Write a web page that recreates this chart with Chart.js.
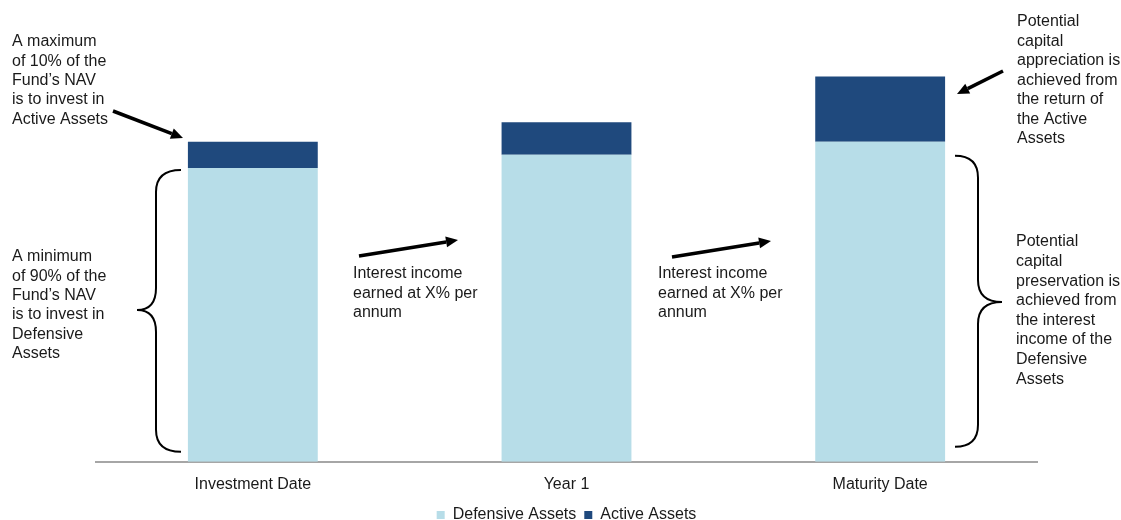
<!DOCTYPE html>
<html>
<head>
<meta charset="utf-8">
<script src="https://cdn.jsdelivr.net/npm/chart.js@4.4.1/dist/chart.umd.min.js"></script>
<style>
  html, body { margin: 0; padding: 0; background: #fff; }
  #wrap { width: 1121px; height: 520px; position: relative; }
</style>
</head>
<body>
<div id="wrap"><canvas id="fundChart"></canvas></div>
<script>
// data
const categories = ["Investment Date", "Year 1", "Maturity Date"];
const defensiveAssets = [90, 94, 98];
const activeAssets = [8, 10, 20];

// side notes
const noteMaxActive = ["A maximum", "of 10% of the", "Fund\u2019s NAV", "is to invest in", "Active Assets"];
const noteMinDefensive = ["A minimum", "of 90% of the", "Fund\u2019s NAV", "is to invest in", "Defensive", "Assets"];
const noteInterest = ["Interest income", "earned at X% per", "annum"];
const noteAppreciation = ["Potential", "capital", "appreciation is", "achieved from", "the return of", "the Active", "Assets"];
const notePreservation = ["Potential", "capital", "preservation is", "achieved from", "the interest", "income of the", "Defensive", "Assets"];

const FONT = "'Liberation Sans', Arial, sans-serif";

function drawLines(ctx, lines, x, y, gap) {
    lines.forEach(function (t, i) {
        ctx.fillText(t, x, y + i * gap);
    });
}

function drawArrow(ctx, x1, y1, x2, y2) {
    let ang = Math.atan2(y2 - y1, x2 - x1);
    let head = 12;
    let bx = x2 - head * Math.cos(ang), by = y2 - head * Math.sin(ang);
    ctx.beginPath();
    ctx.moveTo(x1, y1);
    ctx.lineTo(bx, by);
    ctx.lineWidth = 3.5;
    ctx.stroke();
    ctx.beginPath();
    ctx.moveTo(x2, y2);
    ctx.lineTo(bx + 5.5 * Math.sin(ang), by - 5.5 * Math.cos(ang));
    ctx.lineTo(bx - 5.5 * Math.sin(ang), by + 5.5 * Math.cos(ang));
    ctx.closePath();
    ctx.fill();
}

// curly brace: tips at xTip, spine at xSpine, point at xPoint
function drawBrace(ctx, xTip, xSpine, xPoint, yTop, yMid, yBot) {
    let r = 22;
    ctx.beginPath();
    ctx.moveTo(xTip, yTop);
    ctx.quadraticCurveTo(xSpine, yTop, xSpine, yTop + r);
    ctx.lineTo(xSpine, yMid - r);
    ctx.quadraticCurveTo(xSpine, yMid, xPoint, yMid);
    ctx.quadraticCurveTo(xSpine, yMid, xSpine, yMid + r);
    ctx.lineTo(xSpine, yBot - r);
    ctx.quadraticCurveTo(xSpine, yBot, xTip, yBot);
    ctx.lineWidth = 2;
    ctx.stroke();
}

const notesPlugin = {
    id: 'notes',
    afterDraw: function (chart) {
        let ctx = chart.ctx;
        let y = chart.scales.y;
        ctx.save();
        ctx.fillStyle = '#1a1a1a';
        ctx.strokeStyle = '#000';
        ctx.font = '16px ' + FONT;
        ctx.textBaseline = 'middle';
        ctx.textAlign = 'left';

        drawLines(ctx, noteMaxActive, 12, 42, 19.3);
        drawLines(ctx, noteMinDefensive, 12, 257, 19.3);
        drawLines(ctx, noteInterest, 353, 274, 19.3);
        drawLines(ctx, noteInterest, 658, 274, 19.3);
        drawLines(ctx, noteAppreciation, 1017, 22, 19.5);
        drawLines(ctx, notePreservation, 1016, 242, 19.6);

        ctx.fillStyle = '#000';
        drawArrow(ctx, 113, 111, 183, 138);
        drawArrow(ctx, 359, 256, 458, 240);
        drawArrow(ctx, 672, 257, 771, 241);
        drawArrow(ctx, 1003, 71, 957, 94);

        // braces follow the defensive part of the first and last bars
        let base = y.getPixelForValue(0);
        drawBrace(ctx, 181, 156, 137, y.getPixelForValue(defensiveAssets[0]) + 2, 310, base - 10);
        drawBrace(ctx, 955, 978, 1002, y.getPixelForValue(defensiveAssets[2]) + 14, 302, base - 15);
        ctx.restore();
    }
};

let barCtx = document.getElementById("fundChart");
let barConfig = {
    type: 'bar',
    data: {
        labels: categories,
        datasets: [{
            label: 'Defensive Assets',
            data: defensiveAssets,
            backgroundColor: '#b7dde8',
            borderWidth: 0,
            barPercentage: 0.414,
            categoryPercentage: 1
        }, {
            label: 'Active Assets',
            data: activeAssets,
            backgroundColor: '#1f497d',
            borderWidth: 0,
            barPercentage: 0.414,
            categoryPercentage: 1
        }]
    },
    options: {
        responsive: false,
        animation: false,
        layout: { padding: { left: 96, right: 84, top: 21, bottom: -13 } },
        plugins: {
            tooltip: { enabled: false },
            legend: {
                position: 'bottom',
                labels: {
                    boxWidth: 8,
                    boxHeight: 8,
                    padding: 8,
                    color: '#1a1a1a',
                    font: { family: FONT, size: 16 }
                }
            }
        },
        scales: {
            x: {
                stacked: true,
                grid: { display: false },
                border: { color: '#a6a6a6', width: 2 },
                ticks: { color: '#1a1a1a', padding: 5, font: { family: FONT, size: 16 } }
            },
            y: {
                stacked: true,
                display: false,
                min: 0,
                max: 135
            }
        }
    },
    plugins: [notesPlugin]
};
barCtx.width = 1121;
barCtx.height = 520;
let barChart = new Chart(barCtx, barConfig);
</script>
</body>
</html>
